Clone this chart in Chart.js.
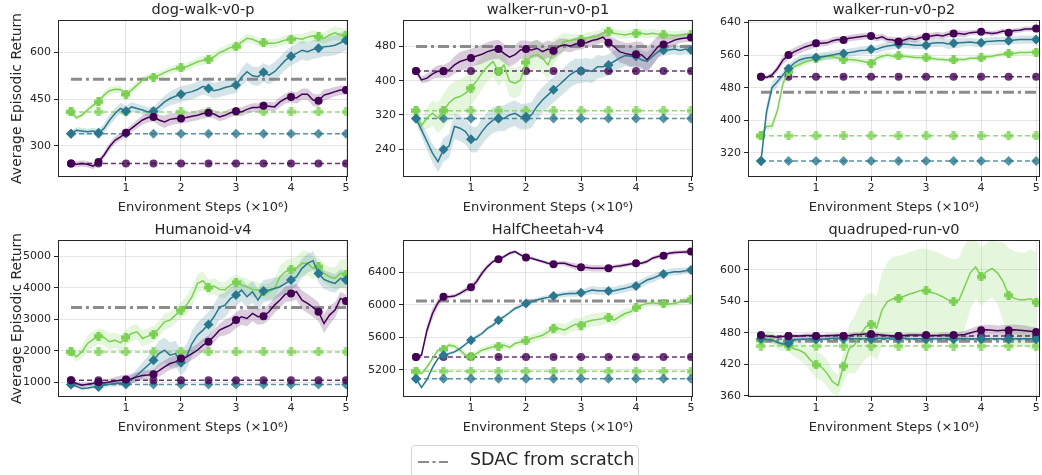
<!DOCTYPE html>
<html>
<head>
<meta charset="utf-8">
<script src="https://cdn.jsdelivr.net/npm/chart.js@4.4.1/dist/chart.umd.min.js"></script>
<style>
  body { margin: 0; background: #fff; width: 1042px; height: 475px; overflow: hidden; position: relative; font-family: "DejaVu Sans", sans-serif; }
  canvas { position: absolute; }
  #legend { position: absolute; left: 411px; top: 445px; width: 228px; height: 40px; border: 1px solid #d4d4d4; border-radius: 4px; box-sizing: border-box; }
  #legend svg { position: absolute; left: 5px; top: 13px; }
  #legend span { position: absolute; left: 58px; top: 3px; font-size: 17.5px; color: #262626; white-space: nowrap; }
</style>
</head>
<body>
<canvas id="c0"></canvas><canvas id="c1"></canvas><canvas id="c2"></canvas>
<canvas id="c3"></canvas><canvas id="c4"></canvas><canvas id="c5"></canvas>
<div id="legend">
  <svg width="32" height="6"><line x1="1" y1="3" x2="31" y2="3" stroke="#8c8c8c" stroke-width="2.2" stroke-dasharray="11,3.5,3,3.5"/></svg>
  <span>SDAC from scratch</span>
</div>
<script>
// ---- data ----
const steps = [0,0.1,0.2,0.3,0.4,0.5,0.6,0.7,0.8,0.9,1,1.1,1.2,1.3,1.4,1.5,1.6,1.7,1.8,1.9,2,2.1,2.2,2.3,2.4,2.5,2.6,2.7,2.8,2.9,3,3.1,3.2,3.3,3.4,3.5,3.6,3.7,3.8,3.9,4,4.1,4.2,4.3,4.4,4.5,4.6,4.7,4.8,4.9,5];
const markerSteps = [0,0.5,1,1.5,2,2.5,3,3.5,4,4.5,5];
const xTicks = [1,2,3,4,5];

const titles = ["dog-walk-v0-p","walker-run-v0-p1","walker-run-v0-p2","Humanoid-v4","HalfCheetah-v4","quadruped-run-v0"];
const yMin = [200,175,261,544,4868,358];
const yMax = [704,542,646,5506,6797,657];
const yTicks = [[300,450,600],[240,320,400,480],[320,400,480,560,640],[1000,2000,3000,4000,5000],[5200,5600,6000,6400],[360,420,480,540,600]];

const baselinePurple = [243,423,507,1074,5360,474];
const baselineTeal = [339,312,300,937,5093,468];
const baselineGreen = [409,330,362,1970,5183,455];
const sdacScratch = [514,480,469,3375,6047,464];

// dog-walk-v0-p
const dogPurple = [243,241,243,241,235,248,270,297,318,329,342,356,370,383,391,393,383,377,385,388,388,391,395,398,404,406,402,393,398,406,411,409,417,423,423,429,427,425,441,452,457,454,466,466,447,445,463,468,474,479,479];
const dogPurpleSd = [10,10,10,10,10,10,10,12,12,12,12,12,14,15,16,16,18,20,20,18,16,16,16,16,16,14,14,14,14,14,14,14,14,14,14,14,14,15,16,16,18,18,18,18,20,20,18,16,15,15,15];
const dogTeal = [339,350,348,345,348,342,356,382,404,420,411,425,420,415,409,411,425,441,452,459,466,470,474,481,491,484,477,481,487,491,495,520,538,525,522,536,527,538,556,575,588,597,607,602,609,613,618,620,623,631,639];
const dogTealSd = [10,10,10,10,10,12,15,18,18,18,18,16,15,15,15,15,18,20,22,25,25,25,25,25,25,25,25,25,25,25,25,28,30,30,30,30,30,30,30,30,30,30,30,30,30,30,30,32,32,32,32];
const dogGreen = [409,390,399,415,430,441,463,477,482,481,465,479,495,511,520,520,527,535,543,548,550,554,562,570,575,577,586,599,607,616,618,633,645,642,634,631,629,629,634,640,643,645,642,649,653,650,645,656,663,656,654];
const dogGreenSd = [8,8,8,9,10,10,12,12,12,12,12,12,12,12,12,12,12,12,12,12,12,12,12,14,14,14,14,14,14,14,14,14,14,14,14,14,14,14,14,15,15,15,16,16,18,18,18,20,22,22,22];

// walker-run-v0-p1
const p1Purple = [423,402,406,416,422,422,425,437,445,449,453,458,462,468,472,474,464,455,461,472,474,472,476,468,474,470,480,484,481,486,488,489,494,497,502,489,480,468,464,461,462,461,449,464,480,485,489,495,498,500,501];
const p1PurpleSd = [8,8,10,12,15,15,18,20,22,22,22,22,22,22,22,22,22,22,22,22,20,20,20,20,20,20,18,15,15,15,15,12,12,12,12,15,20,25,25,28,30,30,30,28,25,20,15,12,10,10,10];
const p1Teal = [312,285,258,231,211,239,247,293,289,281,263,262,281,297,308,312,312,320,324,316,316,320,340,355,367,379,390,402,414,422,423,425,422,433,433,437,445,453,459,457,457,449,445,457,468,471,472,474,471,474,472];
const p1TealSd = [10,15,20,22,25,28,28,30,30,30,30,30,30,30,30,30,30,30,30,30,30,30,30,30,30,30,30,30,30,30,28,28,28,28,25,25,25,25,25,25,22,22,22,20,15,12,12,12,12,12,12];
const p1Green = [330,295,313,324,313,330,348,359,363,371,383,399,418,433,445,422,437,399,394,402,443,457,461,453,437,468,480,492,494,497,496,500,503,504,512,515,511,509,507,510,511,511,509,511,509,507,507,506,507,509,507];
const p1GreenSd = [8,15,25,30,35,40,40,40,40,40,40,40,38,35,35,35,35,35,35,35,35,35,35,35,35,30,25,20,15,12,12,12,12,12,12,12,10,10,10,10,10,10,10,10,10,10,10,10,10,10,10];

// walker-run-v0-p2
const p2Purple = [507,505,511,527,548,560,568,574,580,584,589,589,590,595,598,597,601,603,605,607,607,601,605,598,597,593,597,601,598,603,605,607,609,607,611,613,613,611,615,616,617,615,613,615,619,615,620,621,624,624,625];
const p2PurpleSd = [5,5,6,8,10,10,10,10,10,10,10,8,8,8,8,8,8,8,8,8,8,8,8,8,8,8,8,8,8,8,8,8,8,8,8,8,8,8,6,6,6,6,6,6,6,6,6,6,6,6,6];
const p2Teal = [300,420,480,495,511,527,540,548,552,554,554,556,558,560,563,564,566,568,571,572,574,574,579,582,584,586,587,586,584,584,584,589,590,590,587,589,590,591,592,590,590,593,594,595,595,595,597,598,598,598,598];
const p2TealSd = [10,20,15,12,10,10,10,10,10,10,10,10,10,10,10,10,10,10,10,10,10,10,10,10,10,10,10,10,10,10,10,10,10,10,12,12,12,10,10,10,10,10,10,10,10,10,10,10,10,10,10];
const p2Green = [362,385,386,425,491,519,531,537,543,547,552,552,557,556,552,549,549,548,546,543,540,552,557,560,557,558,557,556,554,554,553,552,550,549,548,548,549,549,552,552,553,556,557,560,562,564,564,566,566,567,567];
const p2GreenSd = [8,10,10,10,10,8,8,8,8,8,8,8,8,8,8,8,8,8,8,8,8,8,8,8,8,6,6,6,6,6,6,6,6,6,6,6,6,6,6,6,6,6,6,6,6,6,6,6,6,6,6];

// Humanoid-v4
const humPurple = [1074,968,916,947,968,1021,989,1021,1053,1074,1095,1120,1180,1220,1240,1264,1380,1496,1602,1654,1760,1813,1918,2024,2182,2290,2467,2657,2741,2815,2974,3080,3027,3185,3080,3100,3237,3449,3607,3797,3818,3871,3607,3501,3375,3237,2868,3132,3290,3660,3575];
const humPurpleSd = [80,60,60,60,60,60,80,100,120,150,150,150,150,150,150,150,200,200,200,200,200,200,200,200,200,200,200,200,250,250,250,250,250,250,250,250,250,250,250,250,250,250,300,300,300,300,300,300,250,200,200];
const humTeal = [937,884,810,831,863,863,916,947,968,989,968,1095,1232,1390,1549,1707,1918,2024,1866,1918,1623,1813,2235,2498,2657,2836,3080,3375,3449,3660,3765,3923,3712,3870,3607,3892,3923,3976,4029,4135,4240,4346,4610,4768,4852,4451,4261,4187,4135,4293,4240];
const humTealSd = [60,60,60,60,60,80,80,80,100,100,120,150,200,250,300,350,400,400,400,400,400,400,400,400,400,400,400,400,400,350,350,350,350,350,350,350,350,350,300,300,300,300,300,300,300,300,300,300,300,300,250];
const humGreen = [1970,1813,1970,2235,2360,2467,2425,2290,2340,2256,2425,2550,2604,2393,2467,2530,2710,2921,2974,3132,3290,3449,3712,4135,4219,4000,4050,3945,3923,4082,4166,4082,4029,3945,3923,3870,3870,3976,4346,4504,4578,4610,4768,4768,4610,4662,4451,4346,4293,4451,4420];
const humGreenSd = [150,150,200,250,250,250,250,250,250,250,250,250,250,250,250,250,250,250,250,250,250,300,300,300,300,250,250,250,250,250,250,250,250,250,250,250,250,300,350,350,350,350,400,400,350,300,300,300,350,450,500];

// HalfCheetah-v4
const hcPurple = [5360,5381,5689,5894,6026,6100,6100,6108,6141,6182,6215,6285,6388,6470,6532,6560,6593,6634,6655,6614,6581,6573,6552,6532,6511,6499,6511,6511,6490,6470,6462,6458,6449,6449,6449,6449,6470,6478,6490,6503,6511,6511,6532,6573,6593,6605,6634,6642,6646,6651,6655];
const hcPurpleSd = [15,30,60,70,50,30,25,25,25,30,40,40,40,30,25,25,20,20,20,20,20,20,20,20,20,20,25,30,35,40,40,40,40,40,35,30,25,25,25,25,25,25,25,25,25,25,25,25,25,25,25];
const hcTeal = [5093,4985,5080,5230,5340,5381,5401,5422,5463,5516,5566,5607,5648,5710,5751,5812,5854,5903,5956,5985,6018,6038,6059,6079,6092,6108,6120,6133,6141,6141,6149,6162,6182,6174,6174,6170,6174,6190,6203,6223,6231,6264,6305,6326,6354,6379,6396,6408,6408,6420,6429];
const hcTealSd = [15,15,20,20,20,20,20,20,20,20,20,25,25,25,25,25,25,25,25,25,25,30,30,30,30,30,35,35,40,40,40,45,50,50,50,50,50,50,50,50,50,50,50,50,50,50,45,45,45,40,40];
const hcGreen = [5183,5155,5237,5340,5443,5451,5505,5492,5443,5381,5360,5401,5443,5463,5484,5492,5505,5476,5525,5545,5557,5586,5607,5627,5669,5710,5710,5689,5730,5763,5751,5792,5812,5820,5833,5845,5812,5854,5894,5915,5968,5997,6018,6026,6018,6018,6010,6018,6038,6059,6067];
const hcGreenSd = [20,20,25,30,30,30,35,40,40,40,40,40,40,40,40,40,40,40,40,40,40,50,50,50,60,70,70,70,70,80,80,80,80,80,80,70,70,60,60,50,40,40,40,40,40,40,40,40,40,40,40];

// quadruped-run-v0
const quadPurple = [476,474,473,472,473,474,474,474,475,475,474,474,475,475,476,474,475,477,477,478,478,477,476,475,474,474,475,476,476,476,476,475,475,476,476,476,476,477,480,483,485,486,485,484,485,485,486,485,484,483,482];
const quadPurpleSd = [4,4,4,4,4,4,4,4,4,4,4,4,4,4,4,4,4,4,4,4,4,4,4,4,4,4,4,4,4,4,4,4,4,5,5,5,6,7,8,9,10,10,10,10,10,10,10,10,10,9,9];
const quadTeal = [469,468,466,462,459,460,466,468,468,469,468,468,469,470,470,471,470,469,469,469,469,470,470,470,471,471,470,469,469,469,469,469,469,469,469,469,469,469,469,469,469,469,469,469,469,469,469,469,469,469,469];
const quadTealSd = [5,5,5,5,5,5,5,5,5,5,5,5,5,5,5,5,5,5,5,5,5,5,5,5,5,5,5,5,5,5,5,5,5,5,5,5,5,5,5,5,5,5,5,5,5,5,5,5,5,5,5];
const quadGreen = [466,476,469,461,457,457,450,447,441,428,419,415,403,387,380,417,450,457,476,491,497,489,524,540,545,546,550,554,557,561,560,557,554,549,543,540,543,568,594,606,587,597,603,594,578,552,546,543,543,545,538];
const quadGreenSd = [8,10,12,12,12,12,15,18,20,22,25,25,25,22,20,30,45,55,60,60,60,60,70,75,80,80,80,80,80,80,80,80,80,80,80,80,80,80,70,60,55,55,55,60,75,90,90,90,90,95,95];

const purpleMeans = [dogPurple, p1Purple, p2Purple, humPurple, hcPurple, quadPurple];
const purpleSds = [dogPurpleSd, p1PurpleSd, p2PurpleSd, humPurpleSd, hcPurpleSd, quadPurpleSd];
const tealMeans = [dogTeal, p1Teal, p2Teal, humTeal, hcTeal, quadTeal];
const tealSds = [dogTealSd, p1TealSd, p2TealSd, humTealSd, hcTealSd, quadTealSd];
const greenMeans = [dogGreen, p1Green, p2Green, humGreen, hcGreen, quadGreen];
const greenSds = [dogGreenSd, p1GreenSd, p2GreenSd, humGreenSd, hcGreenSd, quadGreenSd];

// ---- layout / style ----
const colLeft = [0, 345, 690];
const rowTop = [0, 220];
const plotW = [290, 290, 292];
const xMaxCol = [5.036, 5.036, 5.07];
const yAxisW = 58, titleH = 20, plotH = 157, xAxisH = 38, padR = 6;
const FONT = "'DejaVu Sans', sans-serif";
const TEXT = '#262626';

const PURPLE = '#440154', TEAL = '#2a788e', GREEN = '#7ad151';
const PURPLE_A = 'rgba(68,1,84,0.8)', TEAL_A = 'rgba(42,120,142,0.8)', GREEN_A = 'rgba(122,209,81,0.8)';

function plusMarker(color, s) {
  const c = document.createElement('canvas');
  c.width = c.height = s;
  const g = c.getContext('2d');
  const a = s * 0.27;
  g.fillStyle = color;
  g.beginPath();
  g.moveTo(a, 0); g.lineTo(s - a, 0); g.lineTo(s - a, a); g.lineTo(s, a);
  g.lineTo(s, s - a); g.lineTo(s - a, s - a); g.lineTo(s - a, s); g.lineTo(a, s);
  g.lineTo(a, s - a); g.lineTo(0, s - a); g.lineTo(0, a); g.lineTo(a, a);
  g.closePath(); g.fill();
  return c;
}
const greenPlus = plusMarker(GREEN, 9);
const greenPlusA = plusMarker(GREEN_A, 9);

const series = [
  { means: purpleMeans, sds: purpleSds, base: baselinePurple, color: PURPLE, dashColor: PURPLE_A, fill: 'rgba(68,1,84,0.2)', style: 'circle', r: 4 },
  { means: tealMeans, sds: tealSds, base: baselineTeal, color: TEAL, dashColor: TEAL_A, fill: 'rgba(42,120,142,0.2)', style: 'rectRot', r: 5 },
  { means: greenMeans, sds: greenSds, base: baselineGreen, color: GREEN, dashColor: GREEN_A, fill: 'rgba(122,209,81,0.2)', style: greenPlus, dashStyle: greenPlusA, r: 4 }
];

const framePlugin = {
  id: 'frame',
  afterDraw(chart) {
    const { ctx, chartArea: a } = chart;
    ctx.save();
    ctx.strokeStyle = TEXT;
    ctx.lineWidth = 1;
    ctx.strokeRect(a.left + 0.5, a.top + 0.5, a.width - 1, a.height - 1);
    ctx.restore();
  }
};

function buildDatasets(p) {
  const lines = [], bases = [], bands = [];
  series.forEach(s => {
    const mean = s.means[p], sd = s.sds[p];
    lines.push({
      data: steps.map((x, i) => ({ x, y: mean[i] })),
      borderColor: s.color, backgroundColor: s.color, borderWidth: 1.5,
      pointStyle: s.style,
      pointRadius: ctx => (ctx.dataIndex % 5 === 0 ? s.r : 0),
      pointBorderWidth: 0, fill: false
    });
    bases.push({
      data: markerSteps.map(x => ({ x, y: s.base[p] })),
      borderColor: s.dashColor, backgroundColor: s.dashColor, borderWidth: 1.5,
      borderDash: [5, 3], pointStyle: s.dashStyle || s.style, pointRadius: s.r,
      pointBorderWidth: 0, fill: false
    });
    bands.push({
      data: steps.map((x, i) => ({ x, y: mean[i] - sd[i] })),
      borderWidth: 0, pointRadius: 0, fill: false
    });
    bands.push({
      data: steps.map((x, i) => ({ x, y: mean[i] + sd[i] })),
      borderWidth: 0, pointRadius: 0, fill: '-1', backgroundColor: s.fill
    });
  });
  const sdac = {
    data: [{ x: 0, y: sdacScratch[p] }, { x: 5, y: sdacScratch[p] }],
    borderColor: 'rgba(128,128,128,0.9)', borderWidth: 3, borderDash: [11, 4, 3, 4],
    pointRadius: 0, fill: false
  };
  return [...lines, ...bases, sdac, ...bands];
}

for (let p = 0; p < 6; p++) {
  const col = p % 3, row = Math.floor(p / 3);
  const cv = document.getElementById('c' + p);
  cv.width = yAxisW + plotW[col] + padR;
  cv.height = titleH + plotH + xAxisH;
  cv.style.left = colLeft[col] + 'px';
  cv.style.top = rowTop[row] + 'px';

  new Chart(cv, {
    type: 'line',
    data: { datasets: buildDatasets(p) },
    options: {
      responsive: false,
      animation: false,
      events: [],
      layout: { padding: { left: 0, right: padR, top: 0, bottom: 0 } },
      plugins: {
        legend: { display: false },
        tooltip: { enabled: false },
        title: {
          display: true, text: titles[p], color: TEXT, fullSize: false,
          font: { family: FONT, size: 14.5, weight: 'normal' },
          padding: { top: 2, bottom: 0.6 }
        }
      },
      scales: {
        x: {
          type: 'linear', min: -0.236, max: xMaxCol[col],
          afterBuildTicks: s => { s.ticks = xTicks.map(v => ({ value: v })); },
          afterFit: s => { s.height = xAxisH; },
          grid: { color: 'rgba(0,0,0,0.1)', tickColor: TEXT, tickLength: 4, drawTicks: true },
          border: { display: false },
          ticks: { color: TEXT, font: { family: FONT, size: 11 }, padding: 1, maxRotation: 0, callback: v => String(v) },
          title: { display: true, text: 'Environment Steps (×10⁶)', color: TEXT, font: { family: FONT, size: 13 }, padding: { top: 0, bottom: 0 } }
        },
        y: {
          type: 'linear', min: yMin[p], max: yMax[p],
          afterBuildTicks: s => { s.ticks = yTicks[p].map(v => ({ value: v })); },
          afterFit: s => { s.width = yAxisW; },
          grid: { color: 'rgba(0,0,0,0.1)', tickColor: TEXT, tickLength: 4, drawTicks: true },
          border: { display: false },
          ticks: { color: TEXT, font: { family: FONT, size: 11 }, padding: 3, callback: v => String(v) },
          title: {
            display: col === 0, text: 'Average Episodic Return', color: TEXT,
            font: { family: FONT, size: 14 }, padding: { top: 8.6, bottom: 0 }
          }
        }
      }
    },
    plugins: [framePlugin]
  });
}
</script>
</body>
</html>
